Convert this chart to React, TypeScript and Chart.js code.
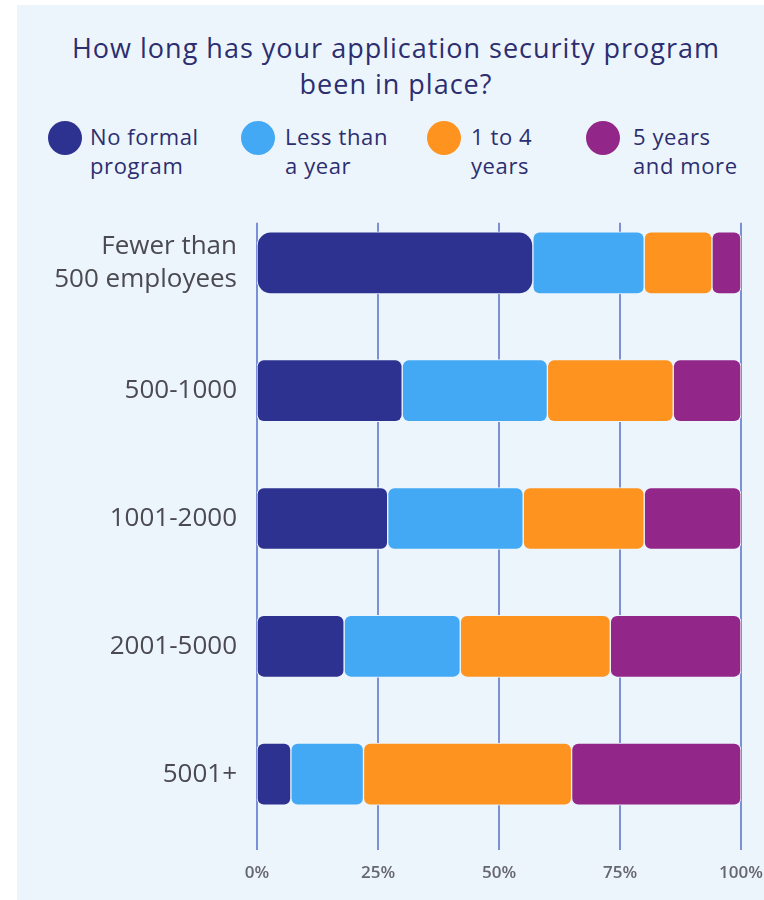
import React, { useEffect, useRef } from "react";
import { Chart, registerables } from "chart.js";

Chart.register(...registerables);

const companySizes: (string | string[])[] = [
  ["Fewer than", "500 employees"],
  "500-1000",
  "1001-2000",
  "2001-5000",
  "5001+",
];

const seriesNames = ["No formal program", "Less than a year", "1 to 4 years", "5 years and more"];
const legendLines = [
  ["No formal", "program"],
  ["Less than", "a year"],
  ["1 to 4", "years"],
  ["5 years", "and more"],
];
const seriesColors = ["#2d3190", "#43a9f4", "#fe931f", "#922789"];

const noFormalProgram = [57, 30, 27, 18, 7];
const lessThanAYear = [23, 30, 28, 24, 15];
const oneToFourYears = [14, 26, 25, 31, 43];
const fiveYearsAndMore = [6, 14, 20, 27, 35];

const percentTicks = [0, 25, 50, 75, 100];

const PANEL_BG = "#edf5fc";
const NAVY_TEXT = "#2c2e70";

// Vertical guide lines at each percentage tick, drawn beneath the bars
const guideLines = {
  id: "guideLines",
  beforeDatasetsDraw(chart: any) {
    const { ctx, scales, chartArea } = chart;
    const x = scales.x;
    const y = scales.y;
    const step = y.getPixelForValue(1) - y.getPixelForValue(0);
    const top = y.getPixelForValue(0) - step * 0.315;
    const bottom = chartArea.bottom + 12;
    ctx.save();
    ctx.strokeStyle = "#7b90d6";
    ctx.lineWidth = 2;
    percentTicks.forEach((v) => {
      const px = Math.round(x.getPixelForValue(v));
      ctx.beginPath();
      ctx.moveTo(px, top);
      ctx.lineTo(px, bottom);
      ctx.stroke();
    });
    ctx.restore();
  },
};

const cornerRadius = (r: number) => ({ topLeft: r, topRight: r, bottomLeft: r, bottomRight: r });

function BarChart() {
  const ref = useRef<HTMLCanvasElement>(null);
  useEffect(() => {
    if (!ref.current) return;
    const series = [noFormalProgram, lessThanAYear, oneToFourYears, fiveYearsAndMore];
    const chart = new Chart(ref.current, {
      type: "bar",
      data: {
        labels: companySizes,
        datasets: series.map((values, i) => ({
          label: seriesNames[i],
          data: values,
          backgroundColor: seriesColors[i],
          borderColor: PANEL_BG,
          borderWidth: 1,
          borderSkipped: false,
          borderRadius: (c: any) => cornerRadius(i === 0 && c.dataIndex === 0 ? 14 : 7),
          barThickness: 62,
        })),
      },
      options: {
        indexAxis: "y",
        animation: false,
        responsive: false,
        maintainAspectRatio: false,
        layout: { padding: { top: 199, right: 0, left: 0, bottom: 0 } },
        plugins: {
          legend: { display: false },
          title: { display: false },
          tooltip: { enabled: false },
        },
        scales: {
          x: {
            stacked: true,
            min: 0,
            max: 100,
            border: { display: false },
            grid: { display: false, drawTicks: false },
            afterFit: (s: any) => {
              s.height = 62;
              s.paddingLeft = 0;
              s.paddingRight = 23;
            },
            afterBuildTicks: (s: any) => {
              s.ticks = percentTicks.map((v) => ({ value: v }));
            },
            ticks: {
              padding: 25,
              color: "#66666e",
              font: { family: "Open Sans", size: 17, weight: "600" },
              callback: (v: any) => `${v}%`,
              maxRotation: 0,
            },
          },
          y: {
            stacked: true,
            border: { display: false },
            grid: { display: false, drawTicks: false },
            afterFit: (s: any) => {
              s.width = 257;
            },
            ticks: {
              padding: 20,
              color: "#4a4a50",
              font: { family: "Open Sans", size: 26, lineHeight: 1.25 },
            },
          },
        },
      },
      plugins: [guideLines],
    });
    return () => chart.destroy();
  }, []);
  return (
    <canvas
      ref={ref}
      width={764}
      height={900}
      style={{ position: "absolute", left: 0, top: 0, width: 764, height: 900 }}
    />
  );
}

export default function App() {
  const legendX = [
    { dot: 65, text: 90 },
    { dot: 258, text: 285 },
    { dot: 444, text: 471 },
    { dot: 603, text: 633 },
  ];
  return (
    <div
      style={{
        position: "absolute",
        left: 0,
        top: 0,
        width: 764,
        height: 900,
        overflow: "hidden",
        background: "#ffffff",
        fontFamily: "'Open Sans', sans-serif",
      }}
    >
      <div
        style={{
          position: "absolute",
          left: 17,
          top: 5,
          width: 747,
          height: 895,
          background: PANEL_BG,
        }}
      />
      <div
        style={{
          position: "absolute",
          left: 0,
          top: 30,
          width: 792,
          textAlign: "center",
          fontSize: 27,
          letterSpacing: 1,
          lineHeight: "36px",
          fontWeight: 500,
          color: NAVY_TEXT,
        }}
      >
        How long has your application security program
        <br />
        been in place?
      </div>
      {legendX.map((p, i) => (
        <React.Fragment key={seriesNames[i]}>
          <div
            style={{
              position: "absolute",
              left: p.dot - 17,
              top: 138 - 17,
              width: 34,
              height: 34,
              borderRadius: "50%",
              background: seriesColors[i],
            }}
          />
          <div
            style={{
              position: "absolute",
              left: p.text,
              top: 122,
              fontSize: 22,
              letterSpacing: 0.6,
              lineHeight: "29px",
              color: NAVY_TEXT,
              whiteSpace: "nowrap",
            }}
          >
            {legendLines[i][0]}
            <br />
            {legendLines[i][1]}
          </div>
        </React.Fragment>
      ))}
      <BarChart />
    </div>
  );
}
